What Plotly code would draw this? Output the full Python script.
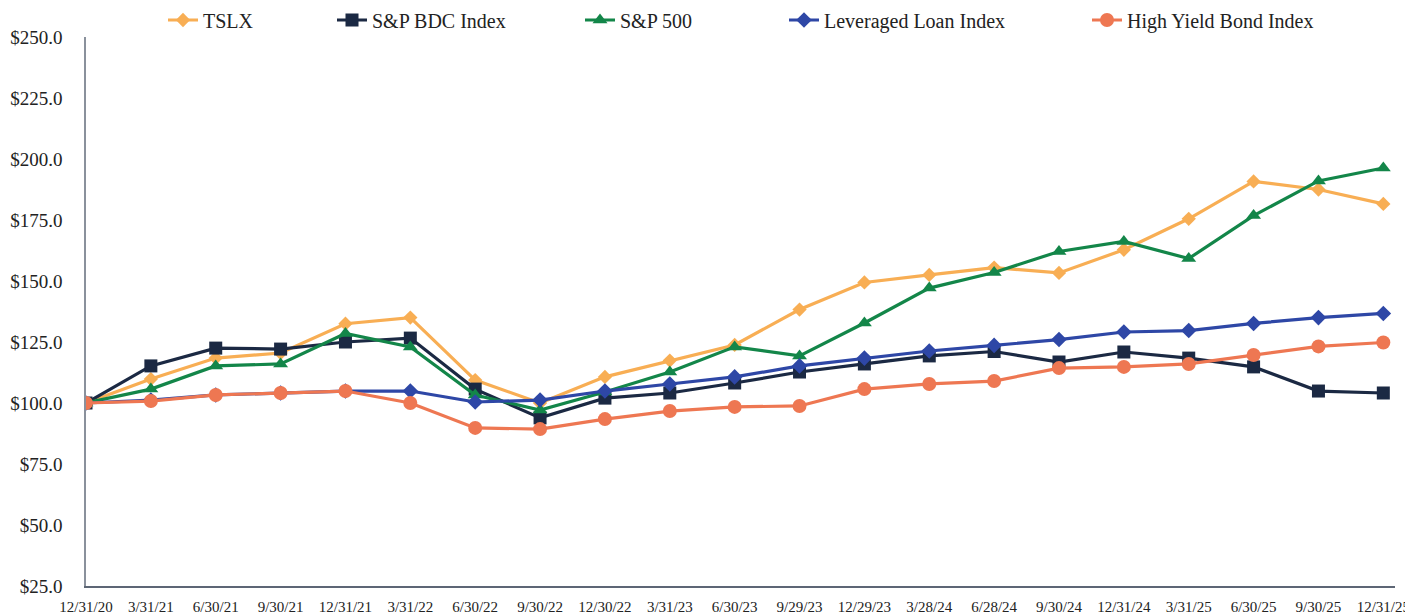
import plotly.graph_objects as go

dates = ["12/31/20", "3/31/21", "6/30/21", "9/30/21", "12/31/21", "3/31/22", "6/30/22",
         "9/30/22", "12/30/22", "3/31/23", "6/30/23", "9/29/23", "12/29/23", "3/28/24",
         "6/28/24", "9/30/24", "12/31/24", "3/31/25", "6/30/25", "9/30/25", "12/31/25"]

tslx = [100, 109.8, 118.4, 120.5, 132.5, 135.0, 109.4, 100.0, 110.7, 117.4, 123.8, 138.3,
        149.4, 152.5, 155.5, 153.3, 162.8, 175.5, 190.8, 187.5, 181.6]
bdc = [100, 115.2, 122.5, 122.1, 125.0, 126.6, 105.7, 93.9, 102.0, 104.1, 108.2, 112.7,
       116.0, 119.3, 121.1, 116.8, 120.9, 118.4, 114.8, 104.9, 104.1]
sp500 = [100, 105.7, 115.2, 116.0, 128.5, 123.0, 103.3, 97.1, 104.5, 112.7, 123.0, 119.3,
         132.8, 147.1, 153.5, 162.1, 166.2, 159.2, 176.8, 191.0, 196.3]
lev_loan = [100, 101.2, 103.3, 104.1, 104.9, 104.9, 100.4, 101.2, 104.9, 107.8, 110.7, 115.2,
            118.4, 121.3, 123.6, 126.0, 129.1, 129.7, 132.6, 135.0, 136.7]
hy_bond = [100, 100.8, 103.3, 104.1, 104.9, 100.0, 89.8, 89.3, 93.4, 96.7, 98.4, 98.8,
           105.7, 107.8, 109.0, 114.3, 114.8, 116.0, 119.7, 123.2, 124.8]

y_ticks = [25, 50, 75, 100, 125, 150, 175, 200, 225, 250]

series = [
    ("TSLX", tslx, "#F8AE54", "diamond", 11),
    ("S&P BDC Index", bdc, "#1B2943", "square", 13),
    ("S&P 500", sp500, "#138649", "triangle-up", 13),
    ("Leveraged Loan Index", lev_loan, "#2E47A6", "diamond", 12),
    ("High Yield Bond Index", hy_bond, "#EE7752", "circle", 14),
]

legend_text_x = [203, 372, 620, 824, 1127]

font_family = "Liberation Serif, Times New Roman, serif"

W, H = 1405, 608

fig = go.Figure()
xs = list(range(len(dates)))
for i, (name, vals, color, sym, size) in enumerate(series):
    lg = "legend" if i == 0 else f"legend{i+1}"
    fig.add_trace(go.Scatter(
        x=xs, y=vals, name=name, mode="lines+markers",
        line=dict(color=color, width=3.2),
        marker=dict(symbol=sym, size=size, color=color),
        legend=lg,
    ))

layout_legends = {}
for i, tx in enumerate(legend_text_x):
    key = "legend" if i == 0 else f"legend{i+1}"
    layout_legends[key] = dict(
        x=(tx - 48) / W, y=1 - 12 / H, xref="container", yref="container",
        xanchor="left", yanchor="middle", orientation="h",
        font=dict(family=font_family, size=20, color="#222222"),
        bgcolor="rgba(0,0,0,0)", borderwidth=0,
    )

fig.update_layout(
    width=W, height=H,
    paper_bgcolor="white", plot_bgcolor="white",
    margin=dict(l=78, r=18, t=29, b=30, autoexpand=False),
    showlegend=True,
    font=dict(family=font_family, color="#222222"),
    **layout_legends,
)

fig.update_xaxes(
    range=[0, 20.18], tickmode="array", tickvals=xs, ticktext=dates,
    showgrid=False, zeroline=False, showline=True, linecolor="#5D6675", linewidth=1.5,
    ticks="", tickfont=dict(family=font_family, size=15, color="#222222"),
    ticklabelstandoff=6, automargin=False,
)
fig.update_yaxes(
    range=[25, 250], tickmode="array", tickvals=y_ticks,
    ticktext=[f"${v:.1f}" for v in y_ticks],
    showgrid=False, zeroline=False, showline=True, linecolor="#8A919C", linewidth=1.5,
    ticks="", tickfont=dict(family=font_family, size=19, color="#222222"),
    ticklabelstandoff=18, automargin=False,
)

fig.write_html("out.html")
